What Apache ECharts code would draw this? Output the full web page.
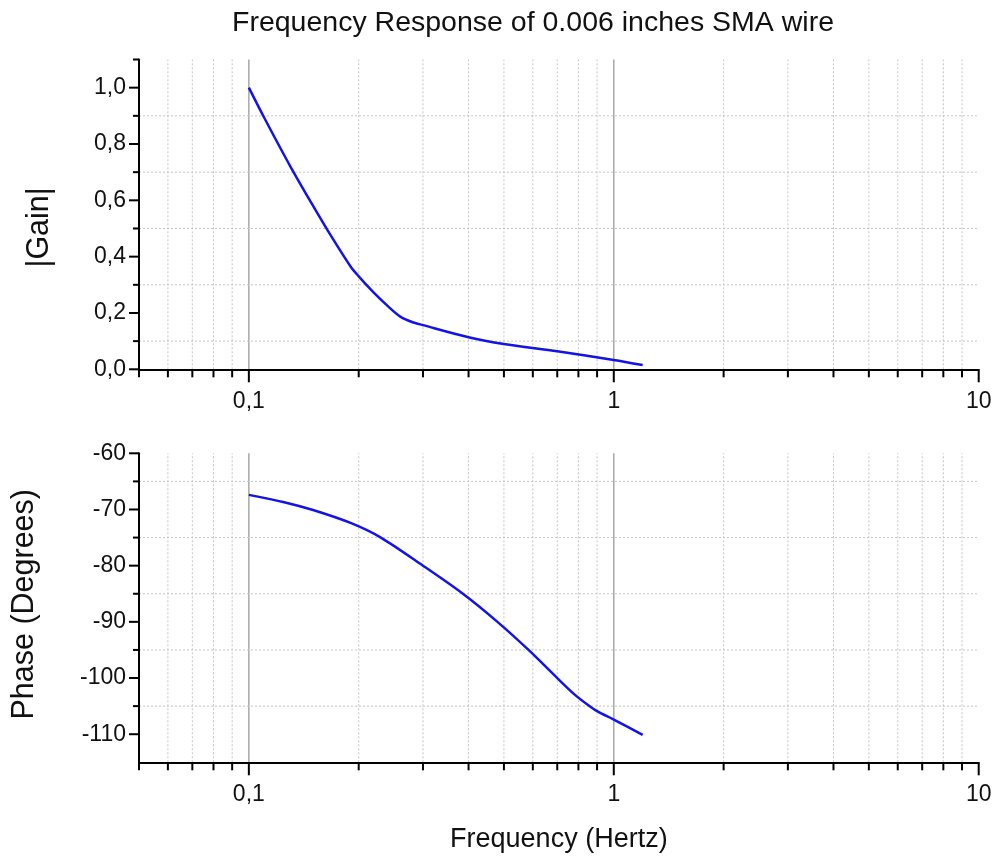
<!DOCTYPE html>
<html>
<head>
<meta charset="utf-8">
<script src="https://cdn.jsdelivr.net/npm/echarts@6/dist/echarts.min.js"></script>
<style>
  html, body { margin: 0; padding: 0; background: #ffffff; }
  #chart { width: 996px; height: 865px; }
</style>
</head>
<body>
<div id="chart"></div>
<script>
// Measured response of the 0.006" SMA wire
const gainFreq  = [0.1, 0.11, 0.13, 0.15, 0.165, 0.19, 0.2, 0.22, 0.24, 0.26, 0.28, 0.3, 0.4, 0.5, 0.7, 1.0, 1.2];
const gainValue = [1.0, 0.895, 0.72, 0.58, 0.49, 0.365, 0.33, 0.272, 0.225, 0.187, 0.168, 0.157, 0.114, 0.09, 0.064, 0.033, 0.015];

const phaseFreq  = [0.1, 0.125, 0.15, 0.19, 0.23, 0.3, 0.386, 0.48, 0.584, 0.7, 0.78, 0.85, 0.9, 1.0, 1.2];
const phaseValue = [-67.4, -68.7, -70.1, -72.4, -75.0, -80.0, -85.0, -90.0, -95.0, -100.0, -102.9, -104.8, -105.9, -107.4, -110.1];

// Axis ticks
const xMajorTicks = [0.1, 1, 10];
const xTickLabels = ['0,1', '1', '10'];
const xMinorTicks = [0.05, 0.06, 0.07, 0.08, 0.09, 0.2, 0.3, 0.4, 0.5, 0.6, 0.7, 0.8, 0.9, 2, 3, 4, 5, 6, 7, 8, 9];

const gainMajorTicks = [0, 0.2, 0.4, 0.6, 0.8, 1.0];
const gainTickLabels = ['0,0', '0,2', '0,4', '0,6', '0,8', '1,0'];
const gainMinorTicks = [0.1, 0.3, 0.5, 0.7, 0.9, 1.1];

const phaseMajorTicks = [-110, -100, -90, -80, -70, -60];
const phaseTickLabels = ['-110', '-100', '-90', '-80', '-70', '-60'];
const phaseMinorTicks = [-105, -95, -85, -75, -65];

const X_MIN = 0.05, X_MAX = 10;
const GAIN_MIN = 0, GAIN_MAX = 1.1;
const PHASE_MIN = -115, PHASE_MAX = -60;

const FONT = 'Liberation Sans, Arial, Helvetica, sans-serif';
const DOTTED = { stroke: '#c4c4c4', lineWidth: 1, lineDash: [2, 2] };
const SOLID = { stroke: '#a8a8a8', lineWidth: 1.5 };
const TICK = { stroke: '#000000', lineWidth: 2 };

function pickLabel(ticks, labels) {
  return function (v) {
    const i = ticks.findIndex(t => Math.abs(t - v) < 1e-6 * Math.max(1, Math.abs(t)));
    return i >= 0 ? labels[i] : '';
  };
}

// vertical rules: gridline across the plot plus a tick below the x axis
function verticalRules(gridIdx, values, tickLen, lineStyle, yMin, yMax) {
  return {
    type: 'custom', xAxisIndex: gridIdx, yAxisIndex: gridIdx, silent: true, z: 1,
    data: values.map(v => [v, yMin]),
    renderItem: function (params, api) {
      const v = api.value(0);
      const p0 = api.coord([v, yMin]);
      const p1 = api.coord([v, yMax]);
      const children = [];
      if (lineStyle && v > X_MIN * 1.0001 && v < X_MAX * 0.9999) {
        children.push({ type: 'line', shape: { x1: p0[0], y1: p0[1], x2: p1[0], y2: p1[1] }, style: lineStyle });
      }
      children.push({ type: 'line', shape: { x1: p0[0], y1: p0[1], x2: p0[0], y2: p0[1] + tickLen }, style: TICK });
      return { type: 'group', children: children };
    }
  };
}

// horizontal rules: gridline across the plot plus a tick left of the y axis
function horizontalRules(gridIdx, values, tickLen, lineStyle, yMin, yMax) {
  return {
    type: 'custom', xAxisIndex: gridIdx, yAxisIndex: gridIdx, silent: true, z: 1,
    data: values.map(v => [X_MIN, v]),
    renderItem: function (params, api) {
      const v = api.value(1);
      const p0 = api.coord([X_MIN, v]);
      const p1 = api.coord([X_MAX, v]);
      const children = [];
      if (lineStyle && v > yMin && v < yMax) {
        children.push({ type: 'line', shape: { x1: p0[0], y1: p0[1], x2: p1[0], y2: p1[1] }, style: lineStyle });
      }
      children.push({ type: 'line', shape: { x1: p0[0] - tickLen, y1: p0[1], x2: p0[0], y2: p0[1] }, style: TICK });
      return { type: 'group', children: children };
    }
  };
}

function xAxisFor(gridIdx, withName) {
  return {
    type: 'log', logBase: 10, gridIndex: gridIdx, min: X_MIN, max: X_MAX, z: 5,
    axisLine: { show: true, onZero: false, lineStyle: { color: '#000', width: 2 } },
    axisTick: { show: false },
    splitLine: { show: false },
    minorTick: { show: false },
    axisLabel: {
      show: true, margin: 21, fontSize: 23, color: '#111', fontFamily: FONT,
      formatter: pickLabel(xMajorTicks, xTickLabels)
    },
    name: withName ? 'Frequency (Hertz)' : '',
    nameLocation: 'middle', nameGap: 64,
    nameTextStyle: { fontSize: 27, color: '#111', fontFamily: FONT }
  };
}

const chart = echarts.init(document.getElementById('chart'), null, { renderer: 'canvas' });

chart.setOption({
  animation: false,
  backgroundColor: '#ffffff',
  graphic: [{
    type: 'text', x: 533, y: 23, silent: true,
    style: {
      text: 'Frequency Response of 0.006 inches SMA wire',
      fontSize: 28.5, fontFamily: FONT, fill: '#111',
      textAlign: 'center', textVerticalAlign: 'middle'
    }
  }],
  grid: [
    { left: 139, right: 17.3, top: 59.5, height: 309.8 },
    { left: 139, right: 17.3, top: 453.3, height: 309 }
  ],
  xAxis: [xAxisFor(0, false), xAxisFor(1, true)],
  yAxis: [
    {
      type: 'value', gridIndex: 0, min: GAIN_MIN, max: GAIN_MAX, interval: 0.1, z: 5,
      axisLine: { show: true, onZero: false, lineStyle: { color: '#000', width: 2 } },
      axisTick: { show: false }, splitLine: { show: false },
      axisLabel: {
        margin: 13, fontSize: 23, color: '#111', fontFamily: FONT,
        formatter: pickLabel(gainMajorTicks, gainTickLabels)
      },
      name: '|Gain|', nameLocation: 'middle', nameGap: 84, nameRotate: 90,
      nameTextStyle: { fontSize: 30.5, color: '#111', fontFamily: FONT, padding: [0, 26, 0, 0] }
    },
    {
      type: 'value', gridIndex: 1, min: PHASE_MIN, max: PHASE_MAX, interval: 5, z: 5,
      axisLine: { show: true, onZero: false, lineStyle: { color: '#000', width: 2 } },
      axisTick: { show: false }, splitLine: { show: false },
      axisLabel: {
        margin: 13, fontSize: 23, color: '#111', fontFamily: FONT,
        formatter: pickLabel(phaseMajorTicks, phaseTickLabels)
      },
      name: 'Phase (Degrees)', nameLocation: 'middle', nameGap: 99, nameRotate: 90,
      nameTextStyle: { fontSize: 30.5, color: '#111', fontFamily: FONT, padding: [0, 0, 0, 7] }
    }
  ],
  series: [
    // gain panel rules
    verticalRules(0, xMinorTicks, 8, DOTTED, GAIN_MIN, GAIN_MAX),
    verticalRules(0, xMajorTicks, 13, SOLID, GAIN_MIN, GAIN_MAX),
    horizontalRules(0, gainMinorTicks, 6, DOTTED, GAIN_MIN, GAIN_MAX),
    horizontalRules(0, gainMajorTicks, 10, null, GAIN_MIN, GAIN_MAX),
    // phase panel rules
    verticalRules(1, xMinorTicks, 8, DOTTED, PHASE_MIN, PHASE_MAX),
    verticalRules(1, xMajorTicks, 13, SOLID, PHASE_MIN, PHASE_MAX),
    horizontalRules(1, phaseMinorTicks, 6, DOTTED, PHASE_MIN, PHASE_MAX),
    horizontalRules(1, phaseMajorTicks, 10, null, PHASE_MIN, PHASE_MAX),
    {
      name: '|Gain|', type: 'line', xAxisIndex: 0, yAxisIndex: 0, z: 3,
      data: gainFreq.map((f, i) => [f, gainValue[i]]),
      showSymbol: false, smooth: 0.3, silent: true,
      lineStyle: { color: '#1414e0', width: 2.5 }
    },
    {
      name: 'Phase', type: 'line', xAxisIndex: 1, yAxisIndex: 1, z: 3,
      data: phaseFreq.map((f, i) => [f, phaseValue[i]]),
      showSymbol: false, smooth: 0.3, silent: true,
      lineStyle: { color: '#1414e0', width: 2.5 }
    }
  ]
});
</script>
</body>
</html>
